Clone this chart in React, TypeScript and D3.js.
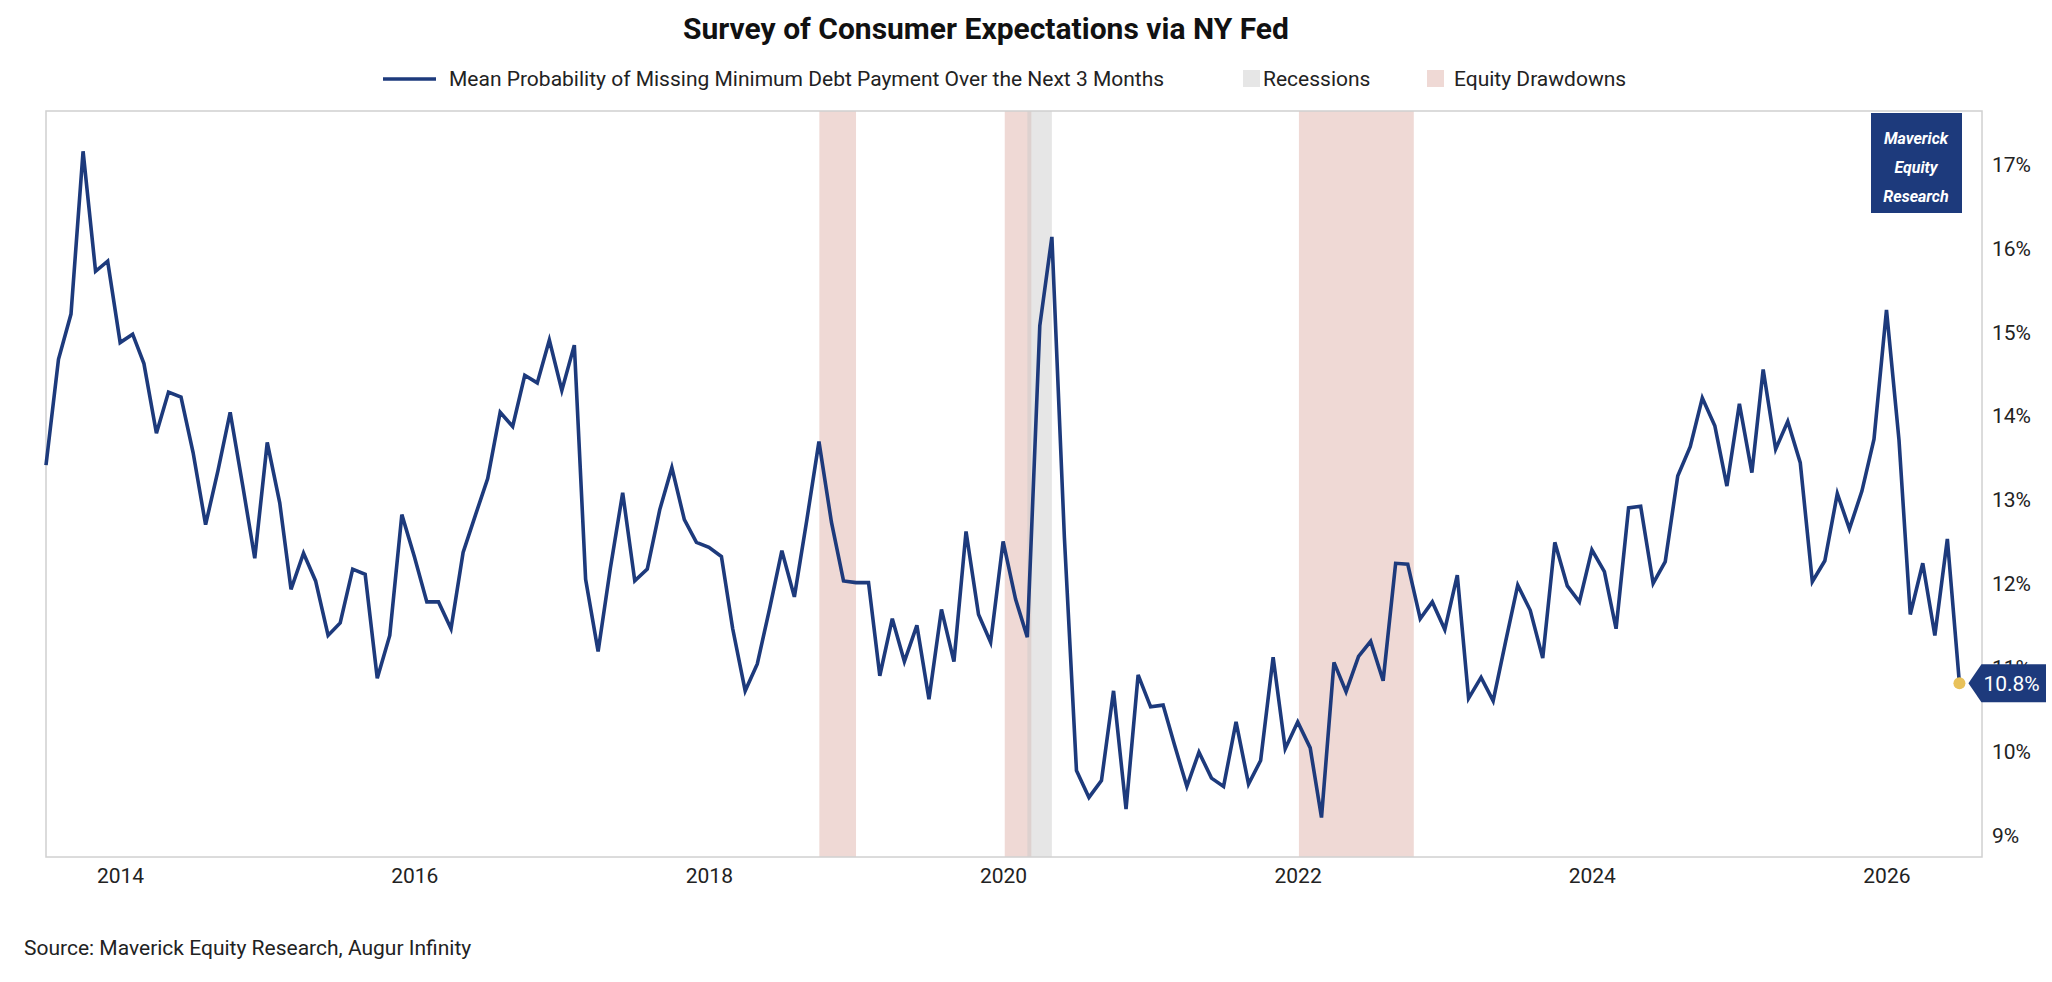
import * as d3 from "d3";

// monthly, end of month, Jun 2013 .. Jun 2026
const startYear = 2013;
const startMonth = 5; // June (0-based)
const values = [
  13.42, 14.68, 15.22, 17.16, 15.73, 15.85, 14.88, 14.98, 14.63, 13.8, 14.29, 14.23, 13.57, 12.71, 13.36, 14.05,
  13.18, 12.31, 13.69, 12.97, 11.94, 12.37, 12.04, 11.39, 11.54, 12.18, 12.12, 10.88, 11.39, 12.83, 12.33, 11.79,
  11.79, 11.47, 12.38, 12.83, 13.26, 14.05, 13.88, 14.49, 14.4, 14.91, 14.31, 14.85, 12.06, 11.2, 12.18, 13.09,
  12.04, 12.18, 12.89, 13.39, 12.77, 12.5, 12.44, 12.33, 11.47, 10.73, 11.05, 11.72, 12.4, 11.85, 12.77, 13.7,
  12.74, 12.04, 12.02, 12.02, 10.91, 11.59, 11.08, 11.51, 10.63, 11.7, 11.08, 12.63, 11.64, 11.31, 12.51, 11.82,
  11.37, 15.08, 16.14, 12.56, 9.78, 9.46, 9.66, 10.73, 9.32, 10.92, 10.54, 10.56, 10.09, 9.59, 10.0, 9.69,
  9.59, 10.36, 9.62, 9.9, 11.13, 10.04, 10.36, 10.05, 9.22, 11.07, 10.72, 11.14, 11.32, 10.85, 12.25, 12.24,
  11.59, 11.79, 11.46, 12.11, 10.64, 10.89, 10.61, 11.32, 11.99, 11.69, 11.12, 12.5, 11.98, 11.79, 12.41, 12.15,
  11.47, 12.91, 12.93, 12.01, 12.27, 13.29, 13.64, 14.22, 13.89, 13.17, 14.15, 13.33, 14.56, 13.61, 13.94, 13.45,
  12.03, 12.28, 13.08, 12.66, 13.11, 13.73, 15.27, 13.72, 11.64, 12.25, 11.39, 12.54, 10.82,
];
const recessions = [["2020-02-29", "2020-04-30"]];
const drawdowns = [
  ["2018-10-01", "2018-12-31"],
  ["2020-01-04", "2020-03-10"],
  ["2022-01-03", "2022-10-15"],
];
const yTicks = [9, 10, 11, 12, 13, 14, 15, 16, 17];
const xTicks = [2014, 2016, 2018, 2020, 2022, 2024, 2026];

const W = 2052, H = 982;
const L = 46, R = 1982, T = 111, B = 857;
const FONT = "Roboto, 'Open Sans', sans-serif";
const NAVY = "#1d3a7c";

const dates = values.map((_, i) => new Date(startYear, startMonth + i + 1, 0));
const pts = values.map((v, i) => ({ d: dates[i], v }));

export default function App() {
  const x = d3.scaleTime().domain([dates[0], new Date(2026, 7, 25)]).range([L, R]);
  const y = d3.scaleLinear().domain([8.75, 17.64]).range([B, T]);
  const line = d3.line<{ d: Date; v: number }>().x((p) => x(p.d)).y((p) => y(p.v));
  const last = pts[pts.length - 1];
  const lx = x(last.d), ly = y(last.v);
  const pd = d3.timeParse("%Y-%m-%d");
  const band = (r: string[], fill: string, k: string) => {
    const a = x(pd(r[0])!), b = x(pd(r[1])!);
    return <rect key={k} x={a} y={T} width={b - a} height={B - T} fill={fill} />;
  };
  return (
    <svg width={W} height={H} style={{ display: "block", position: "absolute", left: 0, top: 0, fontFamily: FONT }}>
      <rect width={W} height={H} fill="#fff" />
      <text x={W / 2 - 40} y={39} textAnchor="middle" fontSize={30} fontWeight={700} fill="#111">
        Survey of Consumer Expectations via NY Fed
      </text>
      {/* legend */}
      <line x1={383} x2={436} y1={79} y2={79} stroke={NAVY} strokeWidth={3.5} />
      <text x={449} y={86} fontSize={21} fill="#222">Mean Probability of Missing Minimum Debt Payment Over the Next 3 Months</text>
      <rect x={1243} y={70} width={17} height={17} fill="#e6e6e6" />
      <text x={1263} y={86} fontSize={21} fill="#222">Recessions</text>
      <rect x={1427} y={70} width={17} height={17} fill="#efd9d5" />
      <text x={1454} y={86} fontSize={21} fill="#222">Equity Drawdowns</text>

      {drawdowns.map((r, i) => band(r, "#efd9d5", "d" + i))}
      {recessions.map((r, i) => band(r, "rgba(200,200,200,0.45)", "r" + i))}
      <rect x={L} y={T} width={R - L} height={B - T} fill="none" stroke="#d0d0d0" strokeWidth={1.5} />

      <path d={line(pts)!} fill="none" stroke={NAVY} strokeWidth={3.6} strokeLinejoin="miter" />
      <circle cx={lx} cy={ly} r={6} fill="#e8c15a" />

      {yTicks.map((t) => (
        <text key={t} x={R + 10} y={y(t) + 7} fontSize={21} fill="#222">{t}%</text>
      ))}
      {xTicks.map((t) => (
        <text key={t} x={x(new Date(t, 0, 1))} y={883} textAnchor="middle" fontSize={21} fill="#222">{t}</text>
      ))}

      {/* last value label, covers the 11% tick as in the source */}
      <path d={`M${lx + 9},${ly} L${lx + 22},${ly - 19} L${W - 6},${ly - 19} L${W - 6},${ly + 19} L${lx + 22},${ly + 19} Z`} fill={NAVY} />
      <text x={lx + 24} y={ly + 8} fontSize={21} fill="#fff">10.8%</text>

      {/* logo */}
      <rect x={1871} y={113} width={91} height={100} fill={NAVY} />
      {["Maverick", "Equity", "Research"].map((s, i) => (
        <text key={s} x={1916} y={144 + i * 29} textAnchor="middle" fontSize={16} fontWeight={700} fontStyle="italic" fill="#fff">{s}</text>
      ))}

      <text x={24} y={955} fontSize={21} fill="#222">Source: Maverick Equity Research, Augur Infinity</text>
    </svg>
  );
}
